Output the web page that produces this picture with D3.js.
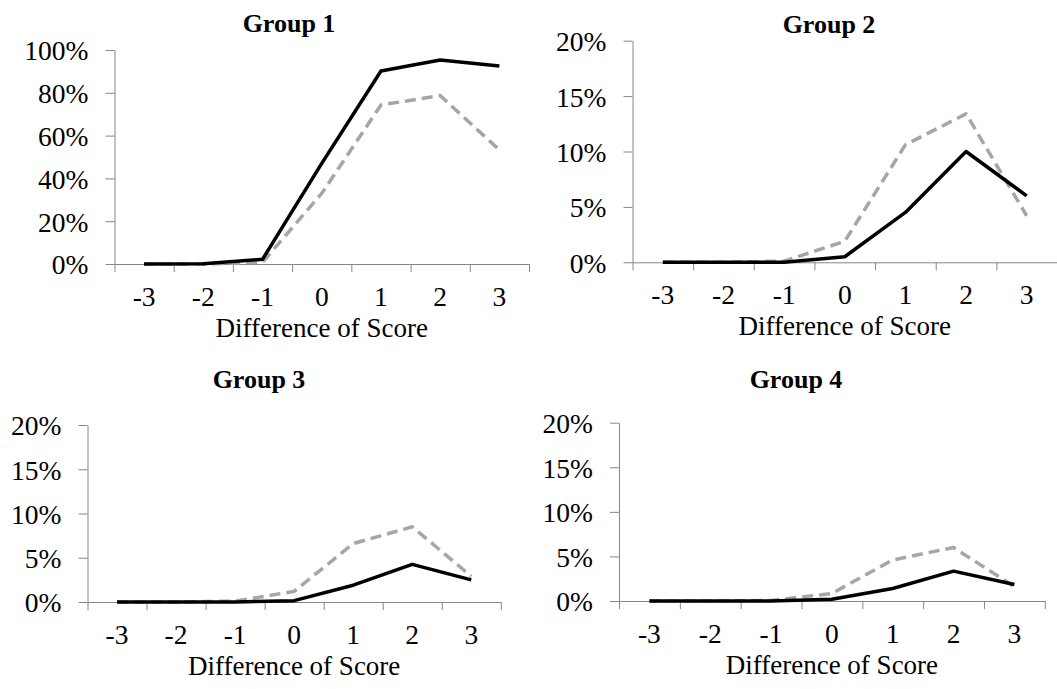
<!DOCTYPE html>
<html>
<head>
<meta charset="utf-8">
<script src="https://cdn.jsdelivr.net/npm/d3@7"></script>
<style>
  body { margin: 0; background: #fff; }
  .tick line, .domain { stroke: #868686; stroke-width: 1; }
</style>
</head>
<body>
<div id="chart"></div>
<script>
// categories on the x axis
var categories = ["-3", "-2", "-1", "0", "1", "2", "3"];
var titles = ["Group 1", "Group 2", "Group 3", "Group 4"];
var xTitle = "Difference of Score";

// y tick values (percent)
var ticksWide = [0, 20, 40, 60, 80, 100];
var ticksNarrow = [0, 5, 10, 15, 20];

// series values (percent), solid black and dashed grey
var group1Solid  = [0, 0.1, 2.2, 47, 90.2, 95.3, 92.5];
var group1Dashed = [0, 0, 0.8, 33, 74.3, 78.7, 53.3];
var group2Solid  = [0, 0, 0, 0.5, 4.5, 10.0, 6.0];
var group2Dashed = [0, 0, 0.1, 1.9, 10.6, 13.4, 4.2];
var group3Solid  = [0, 0, 0, 0.15, 1.9, 4.25, 2.5];
var group3Dashed = [0, 0, 0.1, 1.2, 6.6, 8.5, 2.9];
var group4Solid  = [0, 0, 0, 0.2, 1.4, 3.35, 1.85];
var group4Dashed = [0, 0, 0.05, 0.85, 4.6, 6.0, 1.6];

var width = 1057, height = 689;
var serif = "'Liberation Serif', 'DejaVu Serif', serif";

var svg = d3.select("#chart")
  .append("svg")
    .attr("width", width)
    .attr("height", height)
    .style("font-family", serif);

// where each small chart sits on the page
var panels = [
  {title: titles[0], solid: group1Solid, dashed: group1Dashed, ticks: ticksWide,
   left: 114.5, right: 529, top: 50, bottom: 264, titleX: 289, titleY: 32},
  {title: titles[1], solid: group2Solid, dashed: group2Dashed, ticks: ticksNarrow,
   left: 632.5, right: 1057, top: 40.7, bottom: 262.3, titleX: 829, titleY: 33},
  {title: titles[2], solid: group3Solid, dashed: group3Dashed, ticks: ticksNarrow,
   left: 87.5, right: 500.8, top: 425, bottom: 602, titleX: 259, titleY: 388},
  {title: titles[3], solid: group4Solid, dashed: group4Dashed, ticks: ticksNarrow,
   left: 619, right: 1044.8, top: 422.7, bottom: 601, titleX: 796, titleY: 388}
];

panels.forEach(function(p) {
  var g = svg.append("g");

  var x = d3.scaleBand()
    .domain(categories)
    .range([p.left, p.right]);

  // tick marks sit on the category boundaries
  var xEdge = d3.scaleLinear()
    .domain([0, categories.length])
    .range([p.left, p.right]);

  var y = d3.scaleLinear()
    .domain([0, d3.max(p.ticks)])
    .range([p.bottom, p.top]);

  // y axis
  var yAxis = g.append("g")
    .attr("transform", "translate(" + p.left + ",0)")
    .call(d3.axisLeft(y)
      .tickValues(p.ticks)
      .tickSize(9)
      .tickSizeOuter(0)
      .tickPadding(17)
      .tickFormat(function(d) { return d + "%"; }));
  yAxis.selectAll("text")
    .style("font-family", serif)
    .style("font-size", "27.5px")
    .attr("fill", "#000")
    .attr("dy", "0.36em");

  // x axis line and boundary ticks
  g.append("g")
    .attr("transform", "translate(0," + p.bottom + ")")
    .call(d3.axisBottom(xEdge)
      .tickValues(d3.range(categories.length + 1))
      .tickSize(8)
      .tickSizeOuter(0)
      .tickFormat(""));

  // x labels at the category centres
  var xLab = g.append("g")
    .attr("transform", "translate(0," + p.bottom + ")")
    .call(d3.axisBottom(x).tickSize(0).tickPadding(22));
  xLab.select(".domain").remove();
  xLab.selectAll("text")
    .style("font-family", serif)
    .style("font-size", "27.5px")
    .attr("fill", "#000");

  var line = d3.line()
    .x(function(d, i) { return x(categories[i]) + x.bandwidth() / 2; })
    .y(function(d) { return y(d); });

  g.append("path")
    .datum(p.dashed)
    .attr("fill", "none")
    .attr("stroke", "#a6a6a6")
    .attr("stroke-width", 3.5)
    .attr("stroke-dasharray", "11,6")
    .attr("stroke-linejoin", "round")
    .attr("d", line);

  g.append("path")
    .datum(p.solid)
    .attr("fill", "none")
    .attr("stroke", "#000")
    .attr("stroke-width", 3.5)
    .attr("stroke-linejoin", "round")
    .attr("d", line);

  // chart title
  g.append("text")
    .attr("x", p.titleX)
    .attr("y", p.titleY)
    .attr("text-anchor", "middle")
    .style("font-family", serif)
    .style("font-size", "26px")
    .style("font-weight", "bold")
    .text(p.title);

  // axis title
  g.append("text")
    .attr("x", (p.left + p.right) / 2)
    .attr("y", p.bottom + 73)
    .attr("text-anchor", "middle")
    .style("font-family", serif)
    .style("font-size", "27px")
    .text(xTitle);
});
</script>
</body>
</html>
